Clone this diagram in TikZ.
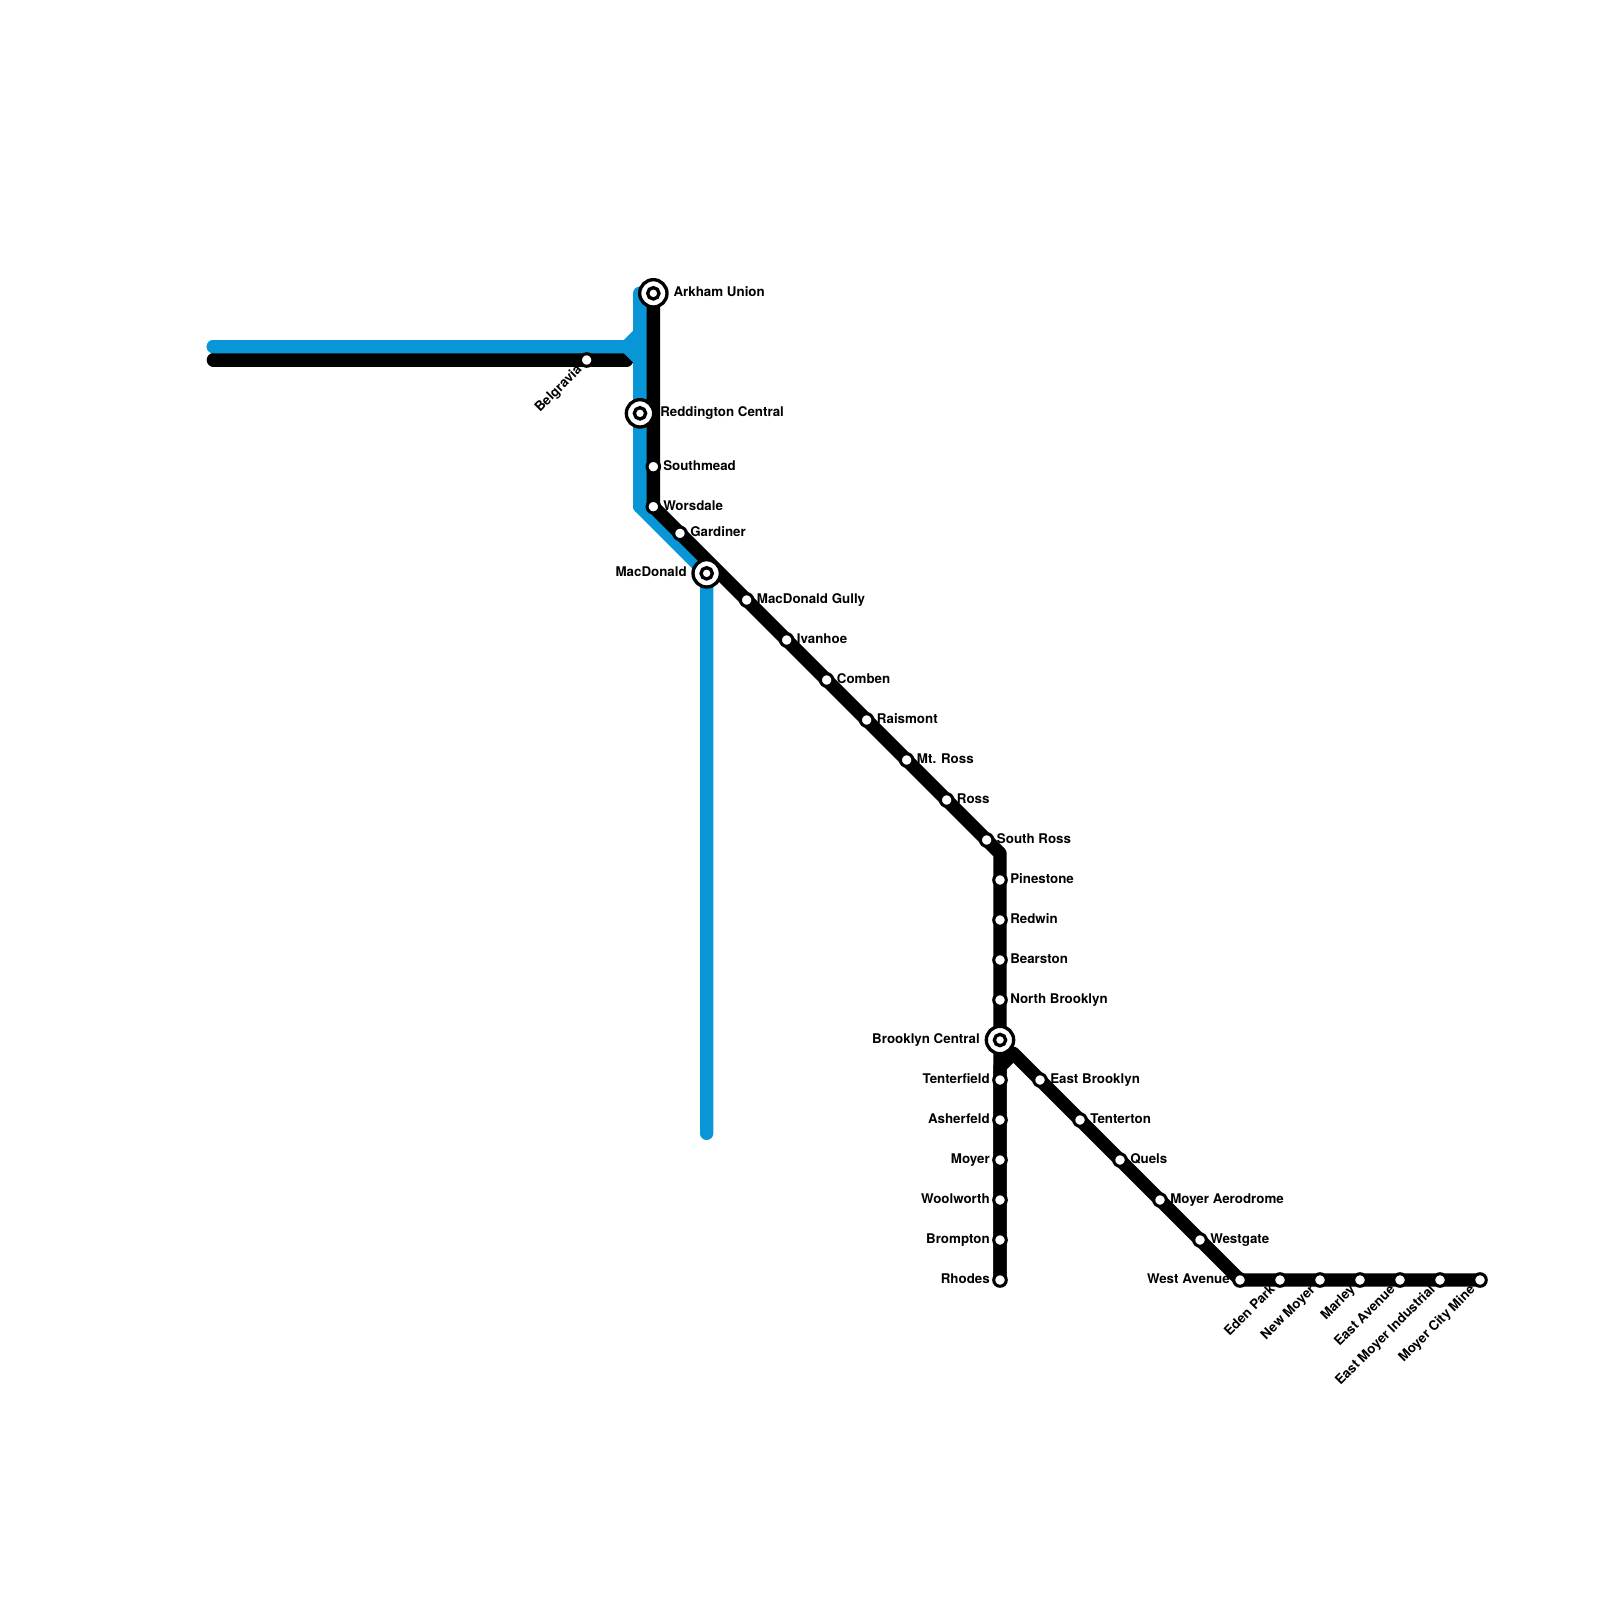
\documentclass[tikz,border=0pt]{standalone}
\usepackage{fontspec}
\setmainfont{TeX Gyre Heros}
\usetikzlibrary{backgrounds}
\definecolor{linkblue}{HTML}{0896D7}
\tikzset{
  stationdot/.style={circle,draw=black,fill=white,line width=2.3pt,minimum size=9.4pt,inner sep=0pt,outer sep=0pt},
  hubouter/.style={circle,draw=black,fill=white,line width=2.5pt,minimum size=20.5pt,inner sep=0pt,outer sep=0pt},
  hubinner/.style={circle,draw=black,fill=white,line width=2.5pt,minimum size=8.5pt,inner sep=0pt,outer sep=0pt},
  lbl/.style={font=\bfseries\fontsize{10}{12}\selectfont,inner sep=0pt,text=black},
  lblr/.style={lbl,anchor=base west},
  lbll/.style={lbl,anchor=base east},
  lbld/.style={lbl,anchor=base east,rotate=45},
  trackblack/.style={draw=black,line width=10pt,line cap=round,line join=round},
  trackblue/.style={draw=linkblue,line width=10pt,line cap=round,line join=round}
}
\begin{document}
\begin{tikzpicture}[x=0.75pt,y=-0.75pt]
\useasboundingbox (0,0) rectangle (1600,1600);
% hubs
\node[hubouter] (arkham) at (653.33,293.33) {};
\node[hubinner] (arkhamc) at (arkham.center) {};
\node[hubouter] (redd) at (640,413.33) {};
\node[hubinner] (reddc) at (redd.center) {};
\node[hubouter] (macd) at (706.67,573.33) {};
\node[hubinner] (macdc) at (macd.center) {};
\node[hubouter] (brook) at (1000,1040) {};
\node[hubinner] (brookc) at (brook.center) {};
% stations
\node[stationdot] (belg) at (586.67,360) {};
\node[stationdot] (south) at (653.33,466.67) {};
\node[stationdot] (wors) at (653.33,506.67) {};
\node[stationdot] (gard) at (680,533.33) {};
\node[stationdot] (macg) at (746.67,600) {};
\node[stationdot] (ivan) at (786.67,640) {};
\node[stationdot] (comb) at (826.67,680) {};
\node[stationdot] (rais) at (866.67,720) {};
\node[stationdot] (mtro) at (906.67,760) {};
\node[stationdot] (ross) at (946.67,800) {};
\node[stationdot] (sros) at (986.67,840) {};
\node[stationdot] (pine) at (1000,880) {};
\node[stationdot] (redw) at (1000,920) {};
\node[stationdot] (bear) at (1000,960) {};
\node[stationdot] (nbro) at (1000,1000) {};
\node[stationdot] (tenf) at (1000,1080) {};
\node[stationdot] (ashe) at (1000,1120) {};
\node[stationdot] (moye) at (1000,1160) {};
\node[stationdot] (wool) at (1000,1200) {};
\node[stationdot] (brom) at (1000,1240) {};
\node[stationdot] (rhod) at (1000,1280) {};
\node[stationdot] (ebro) at (1040,1080) {};
\node[stationdot] (tent) at (1080,1120) {};
\node[stationdot] (quel) at (1120,1160) {};
\node[stationdot] (aero) at (1160,1200) {};
\node[stationdot] (west) at (1200,1240) {};
\node[stationdot] (wave) at (1240,1280) {};
\node[stationdot] (eden) at (1280,1280) {};
\node[stationdot] (nmoy) at (1320,1280) {};
\node[stationdot] (marl) at (1360,1280) {};
\node[stationdot] (eave) at (1400,1280) {};
\node[stationdot] (emoy) at (1440,1280) {};
\node[stationdot] (mine) at (1480,1280) {};
% labels
\node[lblr] (larkham) at (673.3,296.7) {Arkham Union};
\node[lblr] (lredd) at (660,416.7) {Reddington Central};
\node[lblr] (lsouth) at (663,470) {Southmead};
\node[lblr] (lwors) at (663,510) {Worsdale};
\node[lblr] (lgard) at (690,536.7) {Gardiner};
\node[lbll] (lmacd) at (687,576.7) {MacDonald};
\node[lblr] (lmacg) at (756.7,603.4) {MacDonald Gully};
\node[lblr] (livan) at (796.7,643.4) {Ivanhoe};
\node[lblr] (lcomb) at (836.7,683.4) {Comben};
\node[lblr] (lrais) at (876.7,723.4) {Raismont};
\node[lblr] (lmtro) at (916.7,763.4) {Mt. Ross};
\node[lblr] (lross) at (956.7,803.4) {Ross};
\node[lblr] (lsros) at (996.7,843.4) {South Ross};
\node[lblr] (lpine) at (1010,883.4) {Pinestone};
\node[lblr] (lredw) at (1010,923.4) {Redwin};
\node[lblr] (lbear) at (1010,963.4) {Bearston};
\node[lblr] (lnbro) at (1010,1003.4) {North Brooklyn};
\node[lbll] (lbrook) at (980,1043.4) {Brooklyn Central};
\node[lbll] (ltenf) at (990,1083.4) {Tenterfield};
\node[lbll] (lashe) at (990,1123.4) {Asherfeld};
\node[lbll] (lmoye) at (990,1163.4) {Moyer};
\node[lbll] (lwool) at (990,1203.4) {Woolworth};
\node[lbll] (lbrom) at (990,1243.4) {Brompton};
\node[lbll] (lrhod) at (990,1283.4) {Rhodes};
\node[lblr] (lebro) at (1050,1083.4) {East Brooklyn};
\node[lblr] (ltent) at (1090,1123.4) {Tenterton};
\node[lblr] (lquel) at (1130,1163.4) {Quels};
\node[lblr] (laero) at (1170,1203.4) {Moyer Aerodrome};
\node[lblr] (lwest) at (1210,1243.4) {Westgate};
\node[lbll] (lwave) at (1230,1283.4) {West Avenue};
\node[lbld] (lbelg) at (582.6,370.4) {Belgravia};
\node[lbld] (leden) at (1275.9,1290.4) {Eden Park};
\node[lbld] (lnmoy) at (1315.9,1290.4) {New Moyer};
\node[lbld] (lmarl) at (1355.9,1290.4) {Marley};
\node[lbld] (leave) at (1395.9,1290.4) {East Avenue};
\node[lbld] (lemoy) at (1435.9,1290.4) {East Moyer Industrial};
\node[lbld] (lmine) at (1475.9,1290.4) {Moyer City Mine};
% free ends and bends
\coordinate (blackw) at (213.33,360);
\coordinate (blacke) at (626.67,360);
\coordinate (bluew) at (213.33,346.67);
\coordinate (bluej) at (626.67,346.67);
\coordinate (bluem) at (640,346.67);
\coordinate (bluetop) at (640,293.33);
\coordinate (blueup) at (640,333.33);
\coordinate (bluedn) at (640,360);
\coordinate (bluebot) at (640,506.67);
\coordinate (bluekn) at (706.67,573.33);
\coordinate (blueend) at (706.67,1133.33);
\coordinate (bendv) at (1000,853.33);
\coordinate (bendj) at (1013.33,1053.33);
\coordinate (bendk) at (1000,1066.67);
\begin{scope}[on background layer]
\fill[white] (0,0) rectangle (1600,1600);
\draw[trackblack] (blackw) -- (blacke);
\draw[trackblue] (bluetop) -- (blueup) -- (bluej) -- (bluew);
\draw[trackblue] (bluew) -- (bluem);
\draw[trackblue] (bluej) -- (bluedn) -- (bluebot) -- (bluekn) -- (blueend);
\draw[trackblue] (bluetop) -- (bluebot);
\draw[trackblack] (arkham.center) -- (wors.center) -- (bendv) -- (rhod.center);
\draw[trackblack] (mine.center) -- (wave.center) -- (bendj) -- (bendk) -- (rhod.center);
\end{scope}
\end{tikzpicture}
\end{document}
